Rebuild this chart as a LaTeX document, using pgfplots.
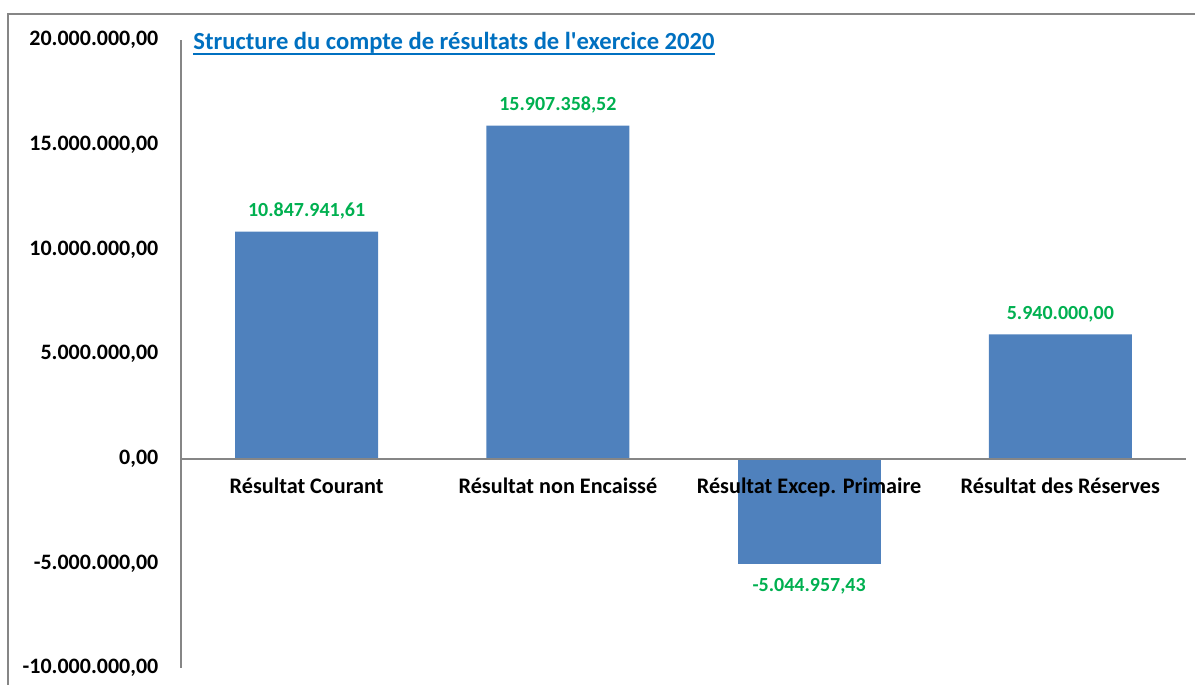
\documentclass[border=0pt]{standalone}
\usepackage{fontspec}
\setmainfont{Carlito}
\newfontfamily\titlefont{Carlito}[Ligatures=TeXOff]
\usepackage{pgfplots}
\pgfplotsset{compat=1.18}
\usepackage{pgfplotstable}
\definecolor{barblue}{HTML}{4F81BD}
\definecolor{lblgreen}{HTML}{00B050}
\definecolor{titleblue}{HTML}{0070C0}
\definecolor{axgray}{HTML}{868686}

\pgfplotstableread{
x y label
0 10847941.61 10.847.941,61
1 15907358.52 15.907.358,52
3 5940000.00 5.940.000,00
}\postable
\pgfplotstableread{
x y label
2 -5044957.43 -5.044.957,43
}\negtable

\begin{document}
\begin{tikzpicture}
\path[use as bounding box] (0,0) rectangle (597.5pt,342.5pt);
\draw[axgray, line width=1.2pt] (4pt,0) -- (4pt,335.5pt) -- (597.5pt,335.5pt);
\begin{axis}[
  at={(90.5pt,8.5pt)}, anchor=south west,
  scale only axis,
  width=502.5pt, height=314pt,
  xmin=-0.5, xmax=3.5,
  ymin=-10000000, ymax=20000000,
  axis x line*=middle,
  axis y line*=left,
  axis on top,
  hide obscured x ticks=false,
  hide obscured y ticks=false,
  axis line style={axgray, line width=0.9pt},
  xtick={0,1,2,3},
  xticklabels={Résultat Courant, Résultat non Encaissé, Résultat Excep. Primaire, Résultat des Réserves},
  xticklabel style={font=\fontsize{11.1pt}{13pt}\selectfont\bfseries, yshift=-6pt},
  ytick={-10000000,-5000000,0,5000000,10000000,15000000,20000000},
  scaled y ticks=false,
  yticklabel style={font=\fontsize{11pt}{13pt}\selectfont\bfseries, xshift=-7.8pt,
    /pgf/number format/.cd, fixed, fixed zerofill, precision=2, use comma, 1000 sep={.}, assume math mode=true},
  major tick length=0pt,
  ybar, bar width=0.57, bar shift=0pt,
  nodes near coords,
  point meta=explicit symbolic,
  every node near coord/.append style={font=\fontsize{10pt}{12pt}\selectfont\bfseries, text=lblgreen, inner sep=6pt},
  clip=false,
]
\addplot[fill=barblue, draw=none] table[x=x, y=y, meta=label] {\postable};
\addplot[fill=barblue, draw=none, every node near coord/.append style={anchor=north, inner sep=7pt}] table[x=x, y=y, meta=label] {\negtable};
\end{axis}
\node[anchor=base west, text=titleblue, font=\fontsize{12.3pt}{14pt}\titlefont\bfseries, inner sep=0pt] (title) at (96.5pt,317.5pt) {Structure du compte de résultats de l'exercice 2020};
\draw[titleblue, line width=0.9pt] (96.5pt,315.6pt) -- (title.east |- 0,315.6pt);
\end{tikzpicture}
\end{document}
